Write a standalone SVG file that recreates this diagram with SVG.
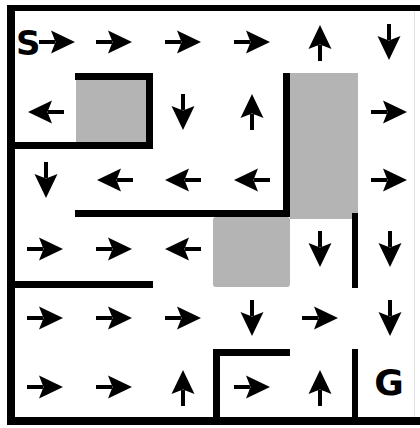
<svg xmlns="http://www.w3.org/2000/svg" xmlns:xlink="http://www.w3.org/1999/xlink" width="420" height="428" viewBox="0 0 420 428">
<style>
.wall{fill:#000}
.gray{fill:#b4b4b4}
.arr{fill:#000}
.lbl{font-family:"DejaVu Sans","Liberation Sans",sans-serif;font-weight:bold;fill:#000}
</style>
<defs>
<path id="ar" d="M-18,-2 H-2 V2 H-18 Z M18,0 L-6,-11.5 L-1.5,0 L-6,11.5 Z"/>
</defs>
<rect width="420" height="428" fill="#fff"/>
<g id="shaded">
<rect class="gray" x="76" y="80" width="70" height="63"/>
<rect class="gray" x="290" y="73" width="68" height="146"/>
<rect class="gray" x="213" y="217" width="77" height="70" rx="3"/>
</g>
<g id="walls">
<rect class="wall" x="7" y="5" width="413" height="6"/>
<rect class="wall" x="7" y="5" width="8" height="420"/>
<rect class="wall" x="7" y="417" width="413" height="8"/>
<line x1="414.5" y1="11" x2="414.5" y2="417" stroke="#e2e2e2" stroke-width="1"/>
<rect class="wall" x="75" y="73" width="78" height="7"/>
<rect class="wall" x="146" y="73" width="7" height="76"/>
<rect class="wall" x="7" y="142" width="146" height="7"/>
<rect class="wall" x="283" y="73" width="7" height="144"/>
<rect class="wall" x="75" y="210" width="215" height="7"/>
<rect class="wall" x="352" y="213" width="6" height="75"/>
<rect class="wall" x="7" y="281" width="146" height="7"/>
<rect class="wall" x="213" y="349" width="77" height="7"/>
<rect class="wall" x="213" y="349" width="7" height="72"/>
<rect class="wall" x="352" y="349" width="6" height="72"/>
</g>
<g id="labels">
<text class="lbl" x="16" y="55" font-size="34">S</text>
<text class="lbl" x="389" y="395" font-size="36" text-anchor="middle">G</text>
</g>
<g id="arrows" class="arr">
<use xlink:href="#ar" transform="translate(57,42)"/>
<use xlink:href="#ar" transform="translate(114,42)"/>
<use xlink:href="#ar" transform="translate(183,42)"/>
<use xlink:href="#ar" transform="translate(252,42)"/>
<use xlink:href="#ar" transform="translate(320,43) rotate(-90)"/>
<use xlink:href="#ar" transform="translate(389,42) rotate(90)"/>

<use xlink:href="#ar" transform="translate(46,112) rotate(180)"/>
<use xlink:href="#ar" transform="translate(183,112) rotate(90)"/>
<use xlink:href="#ar" transform="translate(252,112) rotate(-90)"/>
<use xlink:href="#ar" transform="translate(389,112)"/>

<use xlink:href="#ar" transform="translate(46,180) rotate(90)"/>
<use xlink:href="#ar" transform="translate(115,180) rotate(180)"/>
<use xlink:href="#ar" transform="translate(183,180) rotate(180)"/>
<use xlink:href="#ar" transform="translate(252,180) rotate(180)"/>
<use xlink:href="#ar" transform="translate(389,180)"/>

<use xlink:href="#ar" transform="translate(45,249)"/>
<use xlink:href="#ar" transform="translate(114,249)"/>
<use xlink:href="#ar" transform="translate(183,249) rotate(180)"/>
<use xlink:href="#ar" transform="translate(320,249) rotate(90)"/>
<use xlink:href="#ar" transform="translate(390,249) rotate(90)"/>

<use xlink:href="#ar" transform="translate(45,318)"/>
<use xlink:href="#ar" transform="translate(114,318)"/>
<use xlink:href="#ar" transform="translate(183,318)"/>
<use xlink:href="#ar" transform="translate(252,318) rotate(90)"/>
<use xlink:href="#ar" transform="translate(320,318)"/>
<use xlink:href="#ar" transform="translate(390,318) rotate(90)"/>

<use xlink:href="#ar" transform="translate(45,387)"/>
<use xlink:href="#ar" transform="translate(114,387)"/>
<use xlink:href="#ar" transform="translate(183,388) rotate(-90)"/>
<use xlink:href="#ar" transform="translate(252,387)"/>
<use xlink:href="#ar" transform="translate(320,388) rotate(-90)"/>
</g>
</svg>
